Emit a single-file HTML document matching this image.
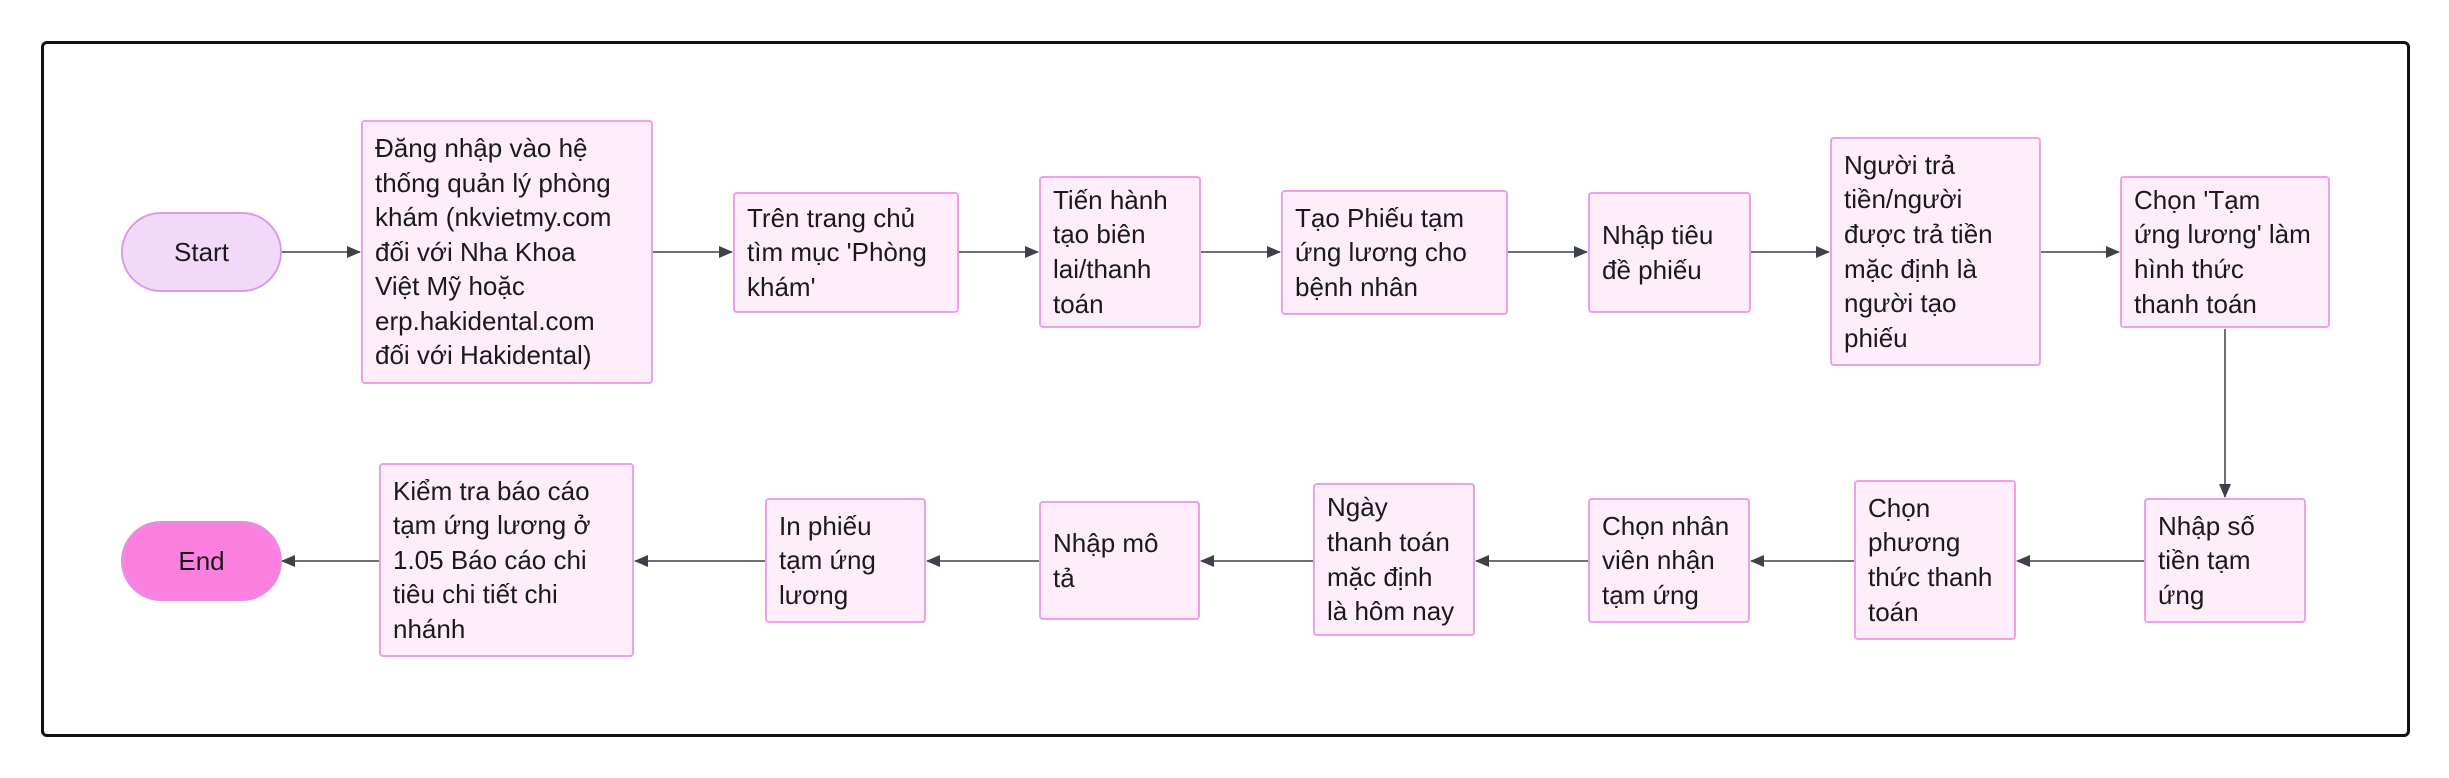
<!DOCTYPE html>
<html><head><meta charset="utf-8"><style>
html,body{margin:0;padding:0;background:#fff;}
body{width:2449px;height:778px;position:relative;overflow:hidden;font-family:"Liberation Sans","DejaVu Sans",sans-serif;}
.frame{position:absolute;left:41px;top:41px;border:3px solid #111;border-radius:6px;box-sizing:border-box;width:2369px;height:696px;}
.b{position:absolute;box-sizing:border-box;background:#fdeefa;border:2px solid #ef9fe4;border-radius:4px;display:flex;align-items:center;padding:0 12px;font-size:26px;line-height:34.6px;color:#1a1a1a;white-space:nowrap;}
.pill{position:absolute;box-sizing:border-box;border-radius:42px;display:flex;align-items:center;justify-content:center;font-size:26px;color:#1a1a1a;}
svg{position:absolute;left:0;top:0;}
</style></head><body>
<div class="frame"></div>
<svg width="2449" height="778">
<defs><marker id="a" markerWidth="14" markerHeight="14" refX="13" refY="7" orient="auto" markerUnits="userSpaceOnUse"><path d="M0,1 L14,7 L0,13z" fill="#3d4248"/></marker></defs>
<g stroke="#3d4248" stroke-width="1.5" fill="none" marker-end="url(#a)">
<line x1="282" y1="252" x2="360" y2="252"/>
<line x1="653" y1="252" x2="732" y2="252"/>
<line x1="959" y1="252" x2="1038" y2="252"/>
<line x1="1201" y1="252" x2="1280" y2="252"/>
<line x1="1508" y1="252" x2="1587" y2="252"/>
<line x1="1751" y1="252" x2="1829" y2="252"/>
<line x1="2041" y1="252" x2="2119" y2="252"/>
<line x1="2225" y1="329" x2="2225" y2="497"/>
<line x1="2144" y1="561" x2="2017" y2="561"/>
<line x1="1854" y1="561" x2="1751" y2="561"/>
<line x1="1588" y1="561" x2="1476" y2="561"/>
<line x1="1313" y1="561" x2="1201" y2="561"/>
<line x1="1039" y1="561" x2="927" y2="561"/>
<line x1="765" y1="561" x2="635" y2="561"/>
<line x1="379" y1="561" x2="282" y2="561"/>
</g></svg>
<div class="pill" style="left:121px;top:212px;width:161px;height:80px;background:#f2d9fa;border:2px solid #d99be8;">Start</div>
<div class="pill" style="left:121px;top:521px;width:161px;height:80px;background:#fc80e0;border:2px solid #e48fe0;">End</div>
<div class="b" style="left:361px;top:120px;width:292px;height:264px;">Đăng nhập vào hệ<br>thống quản lý phòng<br>khám (nkvietmy.com<br>đối với Nha Khoa<br>Việt Mỹ hoặc<br>erp.hakidental.com<br>đối với Hakidental)</div>
<div class="b" style="left:733px;top:192px;width:226px;height:121px;">Trên trang chủ<br>tìm mục 'Phòng<br>khám'</div>
<div class="b" style="left:1039px;top:176px;width:162px;height:152px;">Tiến hành<br>tạo biên<br>lai/thanh<br>toán</div>
<div class="b" style="left:1281px;top:190px;width:227px;height:125px;">Tạo Phiếu tạm<br>ứng lương cho<br>bệnh nhân</div>
<div class="b" style="left:1588px;top:192px;width:163px;height:121px;">Nhập tiêu<br>đề phiếu</div>
<div class="b" style="left:1830px;top:137px;width:211px;height:229px;">Người trả<br>tiền/người<br>được trả tiền<br>mặc định là<br>người tạo<br>phiếu</div>
<div class="b" style="left:2120px;top:176px;width:210px;height:152px;">Chọn 'Tạm<br>ứng lương' làm<br>hình thức<br>thanh toán</div>
<div class="b" style="left:2144px;top:498px;width:162px;height:125px;">Nhập số<br>tiền tạm<br>ứng</div>
<div class="b" style="left:1854px;top:480px;width:162px;height:160px;">Chọn<br>phương<br>thức thanh<br>toán</div>
<div class="b" style="left:1588px;top:498px;width:162px;height:125px;">Chọn nhân<br>viên nhận<br>tạm ứng</div>
<div class="b" style="left:1313px;top:483px;width:162px;height:153px;">Ngày<br>thanh toán<br>mặc định<br>là hôm nay</div>
<div class="b" style="left:1039px;top:501px;width:161px;height:119px;">Nhập mô<br>tả</div>
<div class="b" style="left:765px;top:498px;width:161px;height:125px;">In phiếu<br>tạm ứng<br>lương</div>
<div class="b" style="left:379px;top:463px;width:255px;height:194px;">Kiểm tra báo cáo<br>tạm ứng lương ở<br>1.05 Báo cáo chi<br>tiêu chi tiết chi<br>nhánh</div>
</body></html>
